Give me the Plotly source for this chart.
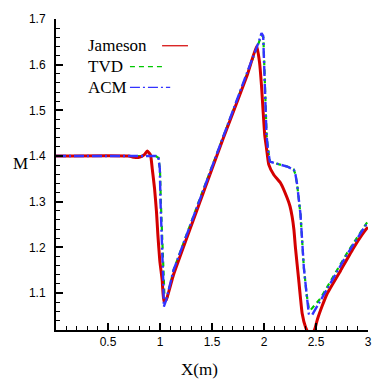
import plotly.graph_objects as go

# Jameson
jam_x = [0.0, 0.70, 0.75, 0.80, 0.85, 0.877, 0.909, 0.925, 0.947, 0.966, 0.979, 0.998, 1.021, 1.037, 1.06,
         1.13, 1.39, 1.61, 1.84, 1.93, 1.957, 1.976, 1.992, 2.007, 2.024, 2.046, 2.094, 2.159, 2.223, 2.25,
         2.27, 2.288, 2.302, 2.334, 2.367, 2.40, 2.43, 2.46, 2.49, 2.512, 2.56, 2.608, 2.736, 2.864, 2.983, 3.0]
jam_y = [1.400, 1.400, 1.397, 1.397, 1.403, 1.411, 1.402, 1.373, 1.330, 1.279, 1.229, 1.171, 1.128, 1.082, 1.085,
         1.140, 1.303, 1.440, 1.578, 1.641, 1.605, 1.554, 1.496, 1.446, 1.417, 1.381, 1.359, 1.341, 1.308, 1.290,
         1.268, 1.238, 1.200, 1.128, 1.055, 1.025, 1.012, 1.010, 1.022, 1.041, 1.072, 1.099, 1.149, 1.200, 1.240, 1.244]

# TVD
tvd_x = [0.0, 0.96, 0.985, 1.0, 1.008, 1.022, 1.032, 1.045, 1.07, 1.13, 1.389, 1.613, 1.838, 1.95, 1.978,
         1.994, 2.006, 2.015, 2.025, 2.038, 2.056, 2.11, 2.223, 2.287, 2.303, 2.319, 2.335, 2.351, 2.367,
         2.383, 2.409, 2.431, 2.445, 2.46, 2.543, 2.671, 2.8, 2.983, 3.0]
tvd_y = [1.400, 1.400, 1.396, 1.370, 1.300, 1.214, 1.130, 1.080, 1.090, 1.150, 1.310, 1.446, 1.583, 1.648, 1.665,
         1.660, 1.590, 1.518, 1.446, 1.417, 1.388, 1.384, 1.377, 1.370, 1.359, 1.337, 1.310, 1.272, 1.214,
         1.156, 1.099, 1.066, 1.062, 1.066, 1.088, 1.138, 1.188, 1.252, 1.256]

# ACM
acm_x = [0.0, 0.96, 0.985, 0.998, 1.005, 1.021, 1.031, 1.037, 1.06, 1.13, 1.389, 1.613, 1.838, 1.95, 1.976,
         1.992, 2.005, 2.014, 2.024, 2.037, 2.056, 2.11, 2.223, 2.287, 2.303, 2.319, 2.335, 2.351, 2.367,
         2.383, 2.409, 2.431, 2.463, 2.543, 2.671, 2.8, 2.983, 3.0]
acm_y = [1.400, 1.400, 1.396, 1.373, 1.300, 1.214, 1.128, 1.070, 1.085, 1.150, 1.310, 1.446, 1.583, 1.650, 1.669,
         1.663, 1.590, 1.518, 1.446, 1.417, 1.388, 1.384, 1.377, 1.370, 1.359, 1.337, 1.310, 1.272, 1.214,
         1.156, 1.099, 1.055, 1.052, 1.084, 1.135, 1.185, 1.250, 1.254]

x_tickvals = [0.5, 1, 1.5, 2, 2.5, 3]
x_ticktext = ["0.5", "1", "1.5", "2", "2.5", "3"]
y_tickvals = [1.1, 1.2, 1.3, 1.4, 1.5, 1.6, 1.7]
y_ticktext = ["1.1", "1.2", "1.3", "1.4", "1.5", "1.6", "1.7"]

RED = "#d40000"
GREEN = "#00c800"
BLUE = "#3333ff"

fig = go.Figure()
fig.add_trace(go.Scatter(x=tvd_x, y=tvd_y, mode="lines", name="TVD",
                         line=dict(color=GREEN, width=2.2, dash="5px,4px")))
fig.add_trace(go.Scatter(x=jam_x, y=jam_y, mode="lines", name="Jameson",
                         line=dict(color=RED, width=3, shape="spline", smoothing=0.4)))
fig.add_trace(go.Scatter(x=acm_x, y=acm_y, mode="lines", name="ACM",
                         line=dict(color=BLUE, width=2.4, dash="10px,3px,2px,3px")))

axis_common = dict(showgrid=False, zeroline=False, showline=True, linecolor="black", linewidth=2,
                   ticks="inside", ticklen=7, tickwidth=2, tickcolor="black",
                   tickfont=dict(family="Liberation Sans", size=12, color="black"))

fig.update_xaxes(range=[0, 3], tickmode="array", tickvals=x_tickvals, ticktext=x_ticktext,
                 minor=dict(tickmode="linear", tick0=0, dtick=0.1, ticks="inside", ticklen=4,
                            tickwidth=1, tickcolor="black"),
                 **axis_common)
fig.update_yaxes(range=[1.019, 1.7], tickmode="array", tickvals=y_tickvals, ticktext=y_ticktext,
                 minor=dict(tickmode="linear", tick0=1.0, dtick=0.02, ticks="inside", ticklen=4,
                            tickwidth=1, tickcolor="black"),
                 ticklabelstandoff=6,
                 **axis_common)

serif = dict(family="Liberation Serif", size=17, color="black")
annotations = [
    dict(text="M", x=-0.115, y=0.535, xref="paper", yref="paper", showarrow=False,
         xanchor="center", yanchor="middle", font=serif),
    dict(text="X(m)", x=0.46, y=-0.127, xref="paper", yref="paper", showarrow=False,
         xanchor="center", yanchor="middle", font=serif),
]
legend_items = [("Jameson", 0.914, RED, "solid", 0.340, 0.423),
                ("TVD", 0.847, GREEN, "5px,4px", 0.237, 0.343),
                ("ACM", 0.780, BLUE, "10px,3px,2px,3px", 0.237, 0.366)]
shapes = []
for name, yy, col, dsh, x0, x1 in legend_items:
    annotations.append(dict(text=name, x=0.096, y=yy, xref="paper", yref="paper", showarrow=False,
                            xanchor="left", yanchor="middle", font=serif))
    shapes.append(dict(type="line", xref="paper", yref="paper", x0=x0, x1=x1, y0=yy, y1=yy,
                       line=dict(color=col, width=1.2, dash=dsh)))

fig.update_layout(width=384, height=384, margin=dict(l=56, r=16, t=16, b=54),
                  paper_bgcolor="white", plot_bgcolor="white", showlegend=False,
                  annotations=annotations, shapes=shapes)

fig.write_html("out.html", config={"displayModeBar": False},
               post_script="document.body.style.margin='0';document.body.style.overflow='hidden';")
